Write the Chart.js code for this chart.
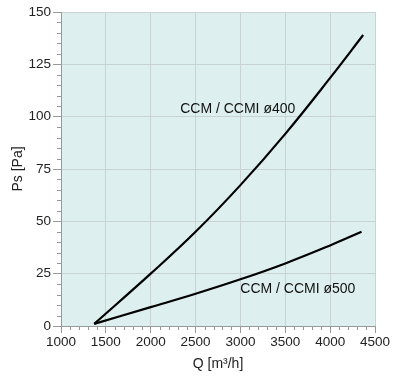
<html><head><meta charset="utf-8">
<script src="https://cdn.jsdelivr.net/npm/chart.js@4.4.0/dist/chart.umd.min.js"></script>
<style>body{margin:0;background:#fff}</style>
</head>
<body>
<canvas id="myChart" width="400" height="377"></canvas>
<script>
// airflow Q [m3/h] and static pressure Ps [Pa]
var q400 = [1370, 2000, 2500, 3000, 3500, 4000, 4368];
var ps400 = [1, 25, 45, 67.3, 91.8, 118.5, 139];
var q500 = [1370, 2000, 2500, 3000, 3500, 4000, 4350];
var ps500 = [1, 9, 15.4, 22.3, 29.9, 38.5, 45];
var curveNames = ['CCM / CCMI ø400', 'CCM / CCMI ø500'];
var labelAt = [[2970, 103.5], [3640, 17.5]];
var xTicks = [1000, 1500, 2000, 2500, 3000, 3500, 4000, 4500];
var yTicks = [0, 25, 50, 75, 100, 125, 150];

function pts(xs, ys) { return xs.map(function (x, i) { return {x: x, y: ys[i]}; }); }

var extras = {
  id: 'extras',
  beforeDraw: function (chart) {
    var a = chart.chartArea, c = chart.ctx;
    c.save();
    c.fillStyle = '#ddefee';
    c.fillRect(a.left, a.top, a.right - a.left, a.bottom - a.top);
    c.restore();
  },
  afterDraw: function (chart) {
    var c = chart.ctx, xs = chart.scales.x, ys = chart.scales.y;
    c.save();
    c.strokeStyle = '#999';
    c.lineWidth = 1;
    c.beginPath();
    for (var v = 1000; v <= 4500; v += 100) {
      if (v % 500 === 0) continue;
      var px = Math.round(xs.getPixelForValue(v)) + 0.5;
      c.moveTo(px, ys.bottom); c.lineTo(px, ys.bottom + 4);
    }
    for (var w = 0; w <= 150; w += 5) {
      if (w % 25 === 0) continue;
      var py = Math.round(ys.getPixelForValue(w)) + 0.5;
      c.moveTo(xs.left - 4, py); c.lineTo(xs.left, py);
    }
    c.stroke();
    c.fillStyle = '#111';
    c.font = '14px "Liberation Sans", Arial';
    c.textAlign = 'center';
    c.textBaseline = 'middle';
    labelAt.forEach(function (p, i) {
      c.fillText(curveNames[i], xs.getPixelForValue(p[0]), ys.getPixelForValue(p[1]));
    });
    c.restore();
  }
};

var gridColor = '#c9d3d3';
var font = {family: '"Liberation Sans", Arial', size: 13.5};
var titleFont = {family: '"Liberation Sans", Arial', size: 14};
var plain = function (v) { return String(v); };

new Chart(document.getElementById('myChart'), {
  type: 'scatter',
  data: {
    datasets: [
      {label: curveNames[0], data: pts(q400, ps400)},
      {label: curveNames[1], data: pts(q500, ps500)}
    ].map(function (d) {
      d.showLine = true; d.borderColor = '#000'; d.borderWidth = 2.2;
      d.pointRadius = 0; d.tension = 0.4; d.fill = false;
      return d;
    })
  },
  options: {
    responsive: false,
    devicePixelRatio: 1,
    animation: false,
    layout: {padding: {top: 12, right: 25, left: 6}},
    plugins: {legend: {display: false}, tooltip: {enabled: false}},
    scales: {
      x: {
        type: 'linear', min: xTicks[0], max: xTicks[xTicks.length - 1],
        afterBuildTicks: function (s) { s.ticks = xTicks.map(function (v) { return {value: v}; }); },
        ticks: {color: '#222', font: font, padding: 1, maxRotation: 0, callback: plain},
        grid: {color: gridColor, tickColor: '#999', tickLength: 7},
        border: {color: '#999'},
        title: {display: true, text: 'Q [m³/h]', color: '#222', font: titleFont, padding: {top: 1}},
        afterFit: function (s) { s.height = 51; }
      },
      y: {
        min: yTicks[0], max: yTicks[yTicks.length - 1],
        afterBuildTicks: function (s) { s.ticks = yTicks.map(function (v) { return {value: v}; }); },
        ticks: {color: '#222', font: font, padding: 2, callback: plain},
        grid: {color: gridColor, tickColor: '#999', tickLength: 8},
        border: {color: '#999'},
        title: {display: true, text: 'Ps [Pa]', color: '#222', font: titleFont, padding: {bottom: 6}},
        afterFit: function (s) { s.width = 55; }
      }
    }
  },
  plugins: [extras]
});
</script>
</body></html>
